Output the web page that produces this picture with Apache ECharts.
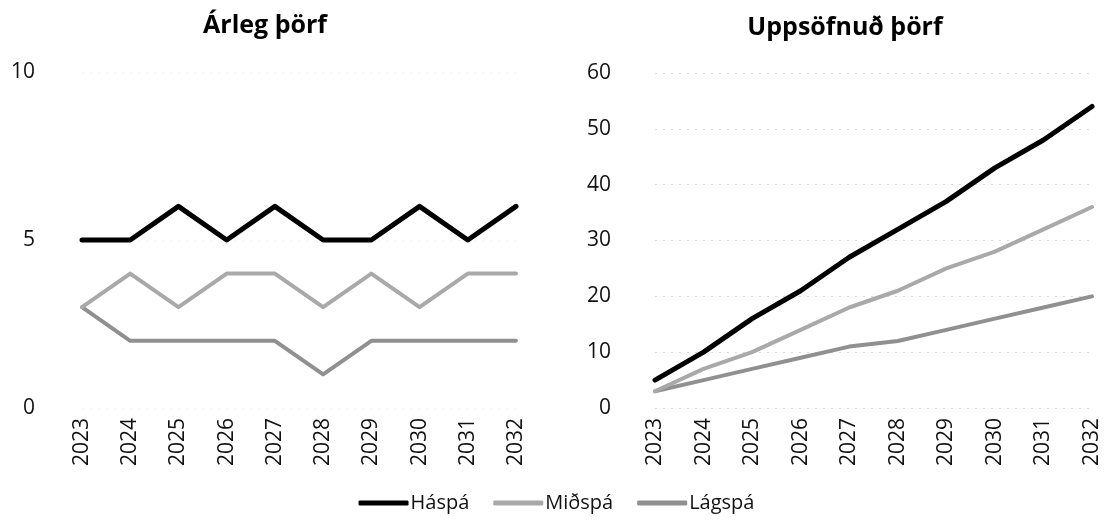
<!DOCTYPE html>
<html>
<head>
<meta charset="utf-8">
<script src="https://cdn.jsdelivr.net/npm/echarts@6/dist/echarts.min.js"></script>
<style>
html, body { margin: 0; padding: 0; background: #fff; }
#main { width: 1113px; height: 522px; }
</style>
</head>
<body>
<div id="main"></div>
<script>
var years = ['2023', '2024', '2025', '2026', '2027', '2028', '2029', '2030', '2031', '2032'];
var seriesNames = ['Háspá', 'Miðspá', 'Lágspá'];

// Árleg þörf
var hiYearly = [5, 5, 6, 5, 6, 5, 5, 6, 5, 6];
var midYearly = [3, 4, 3, 4, 4, 3, 4, 3, 4, 4];
var lowYearly = [3, 2, 2, 2, 2, 1, 2, 2, 2, 2];

// Uppsöfnuð þörf
var hiCum = [5, 10, 16, 21, 27, 32, 37, 43, 48, 54];
var midCum = [3, 7, 10, 14, 18, 21, 25, 28, 32, 36];
var lowCum = [3, 5, 7, 9, 11, 12, 14, 16, 18, 20];

var colors = ['#000000', '#a9a9a9', '#909090'];
var widths = [5, 4, 4];
var font = 'Open Sans';

function line(name, data, idx) {
    var i = seriesNames.indexOf(name);
    return {
        name: name,
        type: 'line',
        data: data,
        xAxisIndex: idx,
        yAxisIndex: idx,
        symbol: 'none',
        color: colors[i],
        lineStyle: { width: widths[i], cap: 'round', join: 'round' },
        z: 10 - i
    };
}

function xAx(idx) {
    return {
        type: 'category',
        gridIndex: idx,
        data: years,
        boundaryGap: false,
        axisLine: { show: false },
        axisTick: { show: false },
        axisLabel: { rotate: 90, margin: 10, color: '#111', fontSize: 21, fontFamily: font }
    };
}

function yAx(idx, max, interval, gridColor, margin) {
    return {
        type: 'value',
        gridIndex: idx,
        min: 0,
        max: max,
        interval: interval,
        axisLine: { show: false },
        axisTick: { show: false },
        axisLabel: { align: 'right', margin: margin, color: '#111', fontSize: 21, fontFamily: font },
        splitLine: { show: true, lineStyle: { color: gridColor, type: [2, 6], width: 1 } }
    };
}

var option = {
    backgroundColor: '#fff',
    animation: false,
    title: [
        { text: 'Árleg þörf', left: 260, top: 8, textAlign: 'center',
          textStyle: { fontSize: 25, fontWeight: 'bold', fontFamily: font, color: '#000' } },
        { text: 'Uppsöfnuð þörf', left: 840, top: 10, textAlign: 'center',
          textStyle: { fontSize: 25, fontWeight: 'bold', fontFamily: font, color: '#000' } }
    ],
    legend: {
        data: seriesNames,
        bottom: 4,
        left: 'center',
        icon: 'roundRect',
        itemWidth: 50,
        itemHeight: 5,
        itemGap: 24,
        textStyle: { fontSize: 20, fontFamily: font, color: '#111', padding: [0, 0, 0, -3] }
    },
    grid: [
        { left: 82, right: 597, top: 72, bottom: 114 },
        { left: 655, right: 21, top: 73, bottom: 114 }
    ],
    xAxis: [xAx(0), xAx(1)],
    yAxis: [yAx(0, 10, 5, '#f4f4f4', 47), yAx(1, 60, 10, '#d8d8d8', 44)],
    series: [
        line('Háspá', hiYearly, 0),
        line('Miðspá', midYearly, 0),
        line('Lágspá', lowYearly, 0),
        line('Háspá', hiCum, 1),
        line('Miðspá', midCum, 1),
        line('Lágspá', lowCum, 1)
    ]
};

var myChart = echarts.init(document.getElementById('main'));
myChart.setOption(option);
</script>
</body>
</html>
